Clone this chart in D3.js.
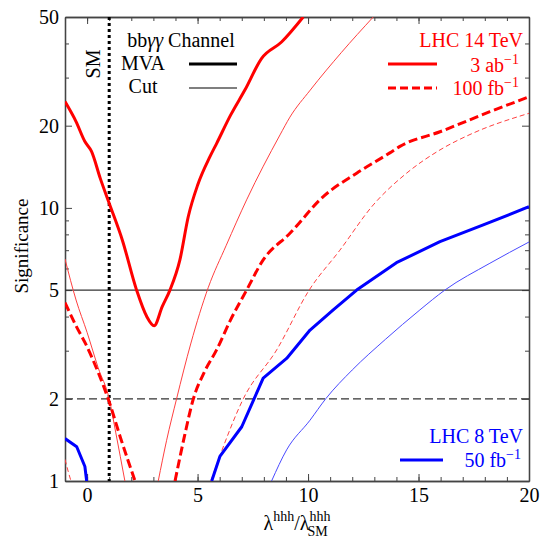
<!DOCTYPE html>
<html>
<head>
<meta charset="utf-8">
<script src="https://cdn.jsdelivr.net/npm/d3@7"></script>
<style>
  body { margin: 0; background: #fff; }
  text { font-family: "Liberation Serif", "DejaVu Serif", serif; }
</style>
</head>
<body>
<svg id="chart" width="549" height="539"></svg>
<script>
// LHC 14 TeV, 3 ab^-1, MVA
const mva3abX = [-1, -0.5, -0.1, 0.2, 0.6, 1.0, 1.6, 2.24, 2.7, 3.03, 3.4, 3.75, 4.2, 4.58, 5.0, 5.56, 5.86, 6.5, 7.14, 7.9, 8.8, 9.78];
const mva3abY = [24.5, 20.7, 17.5, 16.1, 12.8, 10.4, 7.6, 5, 4.0, 3.7, 4.35, 5, 6.45, 9.3, 12.1, 15.4, 17.2, 21.9, 27, 35.3, 40.5, 50];
// LHC 14 TeV, 3 ab^-1, cut based (two branches)
const cut3abLeftX = [-1, -0.5, 0, 0.5, 1, 1.3, 1.71];
const cut3abLeftY = [6.5, 4.6, 3.5, 2.6, 2.0, 1.5, 1.0];
const cut3abRightX = [3.22, 3.6, 4.05, 4.7, 5.48, 6.3, 7.22, 8.73, 9.18, 10.1, 11.5, 12.95];
const cut3abRightY = [1, 1.41, 2, 3.2, 5.1, 7.3, 10.7, 18.5, 21.5, 27, 37, 50];
// LHC 14 TeV, 100 fb^-1, MVA
const mva100LeftX = [-1, -0.5, 0, 0.5, 1, 1.5, 2.17];
const mva100LeftY = [4.5, 3.7, 3.1, 2.5, 1.95, 1.45, 1];
const mva100RightX = [3.98, 4.4, 4.81, 5.3, 5.86, 6.5, 7.22, 7.97, 9.18, 10.69, 12.2, 13.7, 14.16, 15.97, 18.23, 20];
const mva100RightY = [1, 1.45, 2, 2.5, 3.02, 3.9, 5, 6.45, 8.07, 11.0, 13.4, 15.9, 16.8, 19.0, 22.5, 25.5];
// LHC 14 TeV, 100 fb^-1, cut based
const cut100LeftX = [-1, -0.85, -0.73];
const cut100LeftY = [1.2, 1.08, 1];
const cut100RightX = [5.6, 6.0, 7.07, 8.58, 10.05, 11.44, 12.95, 14.46, 15.97, 17.48, 20];
const cut100RightY = [1, 1.23, 2, 3.02, 5, 7.0, 10.25, 13.4, 16.3, 18.8, 22.2];
// LHC 8 TeV, 50 fb^-1, MVA
const mva8LeftX = [-1, -0.47, -0.1, -0.02];
const mva8LeftY = [1.43, 1.335, 1.13, 1];
const mva8RightX = [5.64, 6.01, 7.0, 7.97, 9.03, 10.09, 11.14, 12.2, 14.0, 15.97, 17.93, 20];
const mva8RightY = [1, 1.23, 1.58, 2.38, 2.81, 3.57, 4.23, 5.0, 6.3, 7.52, 8.66, 10.1];
// LHC 8 TeV, 50 fb^-1, cut based
const cut8X = [8.35, 9.03, 10.09, 10.8, 12, 13.5, 15.06, 16.19, 18.23, 20];
const cut8Y = [1, 1.3, 1.67, 2, 2.55, 3.3, 4.23, 5, 6.27, 7.5];

const xTicks = [0, 5, 10, 15, 20];
const xMinor = d3.range(-1, 21);
const yTicks = [1, 2, 5, 10, 20, 50];
const yMinor = [3, 4, 6, 7, 8, 9, 30, 40];
const smLambda = 1;
const thresholds = [2, 5];

const svg = d3.select("#chart");
const width = 549, height = 539;
const margin = { top: 17, right: 20, bottom: 58, left: 65 };

const x = d3.scaleLinear()
  .domain([-1, 20])
  .range([margin.left, width - margin.right]);

const y = d3.scaleLog()
  .domain([1, 50])
  .range([height - margin.bottom, margin.top]);

const frame = "#444";

svg.append("defs").append("clipPath").attr("id", "plot")
  .append("rect")
  .attr("x", x(-1)).attr("y", y(50))
  .attr("width", x(20) - x(-1)).attr("height", y(1) - y(50));

// axes, ticks pointing inward
const styleAxis = g => {
  g.select(".domain").attr("stroke", frame).attr("stroke-width", 1.3);
  g.selectAll(".tick line").attr("stroke", frame);
  g.selectAll(".tick text").attr("font-size", 20).attr("fill", "#000")
    .style("font-family", "'Liberation Serif', serif");
};

svg.append("g")
  .attr("transform", `translate(0,${y(1)})`)
  .call(d3.axisBottom(x).tickValues(xMinor).tickSize(-4).tickSizeOuter(0).tickFormat(""))
  .call(styleAxis);
svg.append("g")
  .attr("transform", `translate(0,${y(1)})`)
  .call(d3.axisBottom(x).tickValues(xTicks).tickSize(-7).tickSizeOuter(0).tickPadding(7))
  .call(styleAxis);
svg.append("g")
  .attr("transform", `translate(0,${y(50)})`)
  .call(d3.axisTop(x).tickValues(xMinor).tickSize(-4).tickSizeOuter(0).tickFormat(""))
  .call(styleAxis);
svg.append("g")
  .attr("transform", `translate(0,${y(50)})`)
  .call(d3.axisTop(x).tickValues(xTicks).tickSize(-7).tickSizeOuter(0).tickFormat(""))
  .call(styleAxis);

svg.append("g")
  .attr("transform", `translate(${x(-1)},0)`)
  .call(d3.axisLeft(y).tickValues(yMinor).tickSize(-4).tickSizeOuter(0).tickFormat(""))
  .call(styleAxis);
svg.append("g")
  .attr("transform", `translate(${x(-1)},0)`)
  .call(d3.axisLeft(y).tickValues(yTicks).tickSize(-7).tickSizeOuter(0).tickPadding(6).tickFormat(d3.format("d")))
  .call(styleAxis);
svg.append("g")
  .attr("transform", `translate(${x(20)},0)`)
  .call(d3.axisRight(y).tickValues(yMinor).tickSize(-4).tickSizeOuter(0).tickFormat(""))
  .call(styleAxis);
svg.append("g")
  .attr("transform", `translate(${x(20)},0)`)
  .call(d3.axisRight(y).tickValues(yTicks).tickSize(-7).tickSizeOuter(0).tickFormat(""))
  .call(styleAxis);

// 5 sigma and 2 sigma reference lines
svg.selectAll("line.thr")
  .data(thresholds)
  .join("line")
  .attr("class", "thr")
  .attr("x1", x(-1)).attr("x2", x(20))
  .attr("y1", d => y(d)).attr("y2", d => y(d))
  .attr("stroke", "#333")
  .attr("stroke-width", 1.3)
  .attr("stroke-dasharray", d => d === 2 ? "8,4" : null);

// SM line
svg.append("line")
  .attr("x1", x(smLambda)).attr("x2", x(smLambda))
  .attr("y1", y(50)).attr("y2", y(1))
  .attr("stroke", "#000")
  .attr("stroke-width", 3)
  .attr("stroke-dasharray", "3,3");

const line = d3.line()
  .x(d => x(d[0]))
  .y(d => y(d[1]))
  .curve(d3.curveMonotoneX);

// the 8 TeV MVA curve is plotted point to point
const lineStraight = d3.line()
  .x(d => x(d[0]))
  .y(d => y(d[1]));

const curves = [
  { xs: cut3abLeftX, ys: cut3abLeftY, color: "#ff4040", w: 1, dash: null },
  { xs: cut3abRightX, ys: cut3abRightY, color: "#ff4040", w: 1, dash: null },
  { xs: cut100LeftX, ys: cut100LeftY, color: "#ff4040", w: 1, dash: "5,3" },
  { xs: cut100RightX, ys: cut100RightY, color: "#ff4040", w: 1, dash: "5,3" },
  { xs: cut8X, ys: cut8Y, color: "#4a4aff", w: 1, dash: null },
  { xs: mva3abX, ys: mva3abY, color: "#f00", w: 3, dash: null },
  { xs: mva100LeftX, ys: mva100LeftY, color: "#f00", w: 3, dash: "9,4" },
  { xs: mva100RightX, ys: mva100RightY, color: "#f00", w: 3, dash: "9,4" },
  { xs: mva8LeftX, ys: mva8LeftY, color: "#00f", w: 3, dash: null, straight: true },
  { xs: mva8RightX, ys: mva8RightY, color: "#00f", w: 3, dash: null, straight: true }
];

svg.append("g")
  .attr("clip-path", "url(#plot)")
  .selectAll("path")
  .data(curves)
  .join("path")
  .attr("fill", "none")
  .attr("stroke", d => d.color)
  .attr("stroke-width", d => d.w)
  .attr("stroke-linejoin", "round")
  .attr("stroke-dasharray", d => d.dash)
  .attr("d", d => (d.straight ? lineStraight : line)(d3.zip(d.xs, d.ys)));

// labels
const txt = (px, py, s, opts = {}) => svg.append("text")
  .attr("x", px).attr("y", py)
  .attr("font-size", opts.size || 20)
  .attr("fill", opts.color || "#000")
  .attr("text-anchor", opts.anchor || "start")
  .text(s);

const withSup = (t, base, sup) => {
  t.text(null);
  t.append("tspan").text(base);
  t.append("tspan").attr("dy", -8).attr("font-size", 14).text(sup);
  return t;
};

svg.append("text")
  .attr("transform", "translate(100,64) rotate(-90)")
  .attr("text-anchor", "middle")
  .attr("font-size", 20)
  .text("SM");

const chan = txt(181, 47, "", { anchor: "middle" });
chan.append("tspan").text("bb");
chan.append("tspan").attr("font-style", "italic").text("γγ");
chan.append("tspan").text(" Channel");
txt(143, 70, "MVA", { anchor: "middle" });
txt(143, 93, "Cut", { anchor: "middle" });
svg.append("line").attr("x1", 189).attr("x2", 237).attr("y1", 64).attr("y2", 64)
  .attr("stroke", "#000").attr("stroke-width", 3);
svg.append("line").attr("x1", 189).attr("x2", 237).attr("y1", 88).attr("y2", 88)
  .attr("stroke", "#000").attr("stroke-width", 1.2);

txt(523, 47, "LHC 14 TeV", { anchor: "end", color: "#f00" });
withSup(txt(519, 72, "", { anchor: "end", color: "#f00" }), "3 ab", "−1");
withSup(txt(519, 95, "", { anchor: "end", color: "#f00" }), "100 fb", "−1");
svg.append("line").attr("x1", 388).attr("x2", 437).attr("y1", 64).attr("y2", 64)
  .attr("stroke", "#f00").attr("stroke-width", 3);
svg.append("line").attr("x1", 388).attr("x2", 437).attr("y1", 88).attr("y2", 88)
  .attr("stroke", "#f00").attr("stroke-width", 3).attr("stroke-dasharray", "8,4");

txt(523, 443, "LHC 8 TeV", { anchor: "end", color: "#00f" });
withSup(txt(521, 467, "", { anchor: "end", color: "#00f" }), "50 fb", "−1");
svg.append("line").attr("x1", 400).attr("x2", 443).attr("y1", 460).attr("y2", 460)
  .attr("stroke", "#00f").attr("stroke-width", 3);

// axis titles
svg.append("text")
  .attr("transform", "translate(28,246) rotate(-90)")
  .attr("text-anchor", "middle")
  .attr("font-size", 19)
  .text("Significance");

const xt = svg.append("text").attr("x", 297).attr("y", 530)
  .attr("text-anchor", "middle").attr("font-size", 20);
xt.append("tspan").text("λ");
xt.append("tspan").attr("dy", -9).attr("font-size", 14).text("hhh");
xt.append("tspan").attr("dy", 9).text("/λ");
xt.append("tspan").attr("dy", -9).attr("font-size", 14).text("hhh");
xt.append("tspan").attr("dy", 15).attr("dx", -23).attr("font-size", 14).text("SM");
</script>
</body>
</html>
